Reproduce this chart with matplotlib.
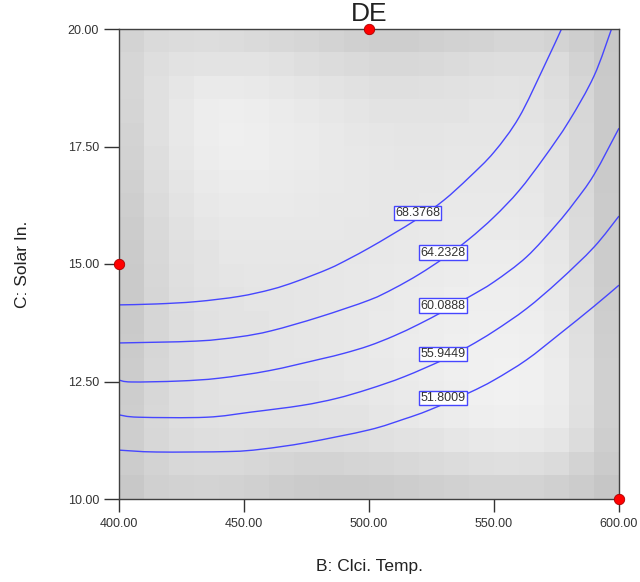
import numpy as np
import matplotlib
matplotlib.use("Agg")
import matplotlib.pyplot as plt
from matplotlib.path import Path
from matplotlib.patches import PathPatch

FONT = ['Liberation Sans Narrow', 'Liberation Sans', 'DejaVu Sans']
plt.rcParams['font.family'] = FONT

# ---- data ----
title = "DE"
x_label = "B: Clci. Temp."
y_label = "C: Solar In."
x_ticks = [400, 450, 500, 550, 600]
y_ticks = [10, 12.5, 15, 17.5, 20]

# contour levels and traced contour lines (B, C)
levels = [68.3768, 64.2328, 60.0888, 55.9449, 51.8009]
c1_x = [400, 415, 431, 448, 461, 471, 484, 492, 500, 509, 520, 530, 540, 550, 560, 570, 577]
c1_y = [14.13, 14.15, 14.20, 14.31, 14.46, 14.63, 14.90, 15.11, 15.34, 15.62, 15.98, 16.36, 16.84, 17.38, 18.12, 19.20, 20.00]
c2_x = [400, 431, 448, 461, 480, 500, 510, 520, 530, 540, 550, 560, 570, 580, 590, 597]
c2_y = [13.32, 13.36, 13.45, 13.58, 13.87, 14.23, 14.48, 14.78, 15.13, 15.53, 16.00, 16.56, 17.26, 18.04, 19.00, 20.00]
c3_x = [400, 405, 424, 440, 460, 480, 490, 500, 510, 520, 530, 540, 550, 563, 575, 582, 590, 600]
c3_y = [12.53, 12.49, 12.51, 12.57, 12.73, 12.97, 13.10, 13.26, 13.47, 13.72, 14.00, 14.30, 14.62, 15.15, 15.84, 16.30, 16.90, 17.89]
c4_x = [400, 408, 435, 453, 473, 487, 500, 514, 530, 540, 550, 563, 576, 590, 600]
c4_y = [11.79, 11.74, 11.74, 11.85, 11.99, 12.14, 12.34, 12.60, 12.97, 13.25, 13.57, 14.05, 14.64, 15.36, 16.02]
c5_x = [400, 415, 444, 457, 475, 500, 514, 524, 540, 550, 563, 576, 590, 600]
c5_y = [11.04, 11.00, 11.01, 11.06, 11.20, 11.47, 11.70, 11.89, 12.26, 12.53, 12.96, 13.50, 14.10, 14.55]

# design points
pts_x = [500, 400, 600]
pts_y = [20, 15, 10]

# background shading (grey levels, top row = C 20, left col = B 400)
shade = [
    [212, 218, 220, 221, 220, 218, 216, 214, 211, 208, 206, 206, 208, 210, 212, 214, 214, 212, 206, 200],
    [214, 222, 226, 228, 228, 227, 225, 222, 220, 218, 216, 216, 217, 219, 221, 222, 222, 220, 212, 201],
    [214, 224, 230, 234, 234, 233, 231, 229, 227, 225, 223, 223, 224, 225, 226, 227, 226, 222, 214, 202],
    [213, 224, 232, 237, 238, 237, 235, 233, 231, 229, 228, 227, 228, 228, 229, 229, 228, 224, 215, 202],
    [212, 224, 232, 237, 239, 238, 236, 235, 233, 231, 230, 229, 229, 230, 230, 230, 229, 225, 216, 202],
    [210, 222, 231, 236, 238, 238, 236, 235, 233, 232, 231, 230, 230, 231, 231, 231, 230, 226, 216, 202],
    [208, 221, 229, 234, 236, 236, 235, 234, 233, 232, 231, 231, 231, 232, 232, 232, 231, 227, 217, 202],
    [206, 219, 227, 232, 234, 234, 234, 233, 232, 232, 231, 231, 232, 233, 233, 233, 232, 228, 218, 203],
    [204, 217, 225, 230, 232, 232, 232, 232, 232, 231, 231, 232, 233, 234, 234, 234, 233, 229, 219, 203],
    [203, 216, 224, 228, 231, 231, 231, 231, 231, 231, 232, 233, 234, 235, 236, 236, 235, 231, 220, 204],
    [202, 215, 223, 227, 229, 230, 230, 230, 231, 232, 233, 234, 235, 236, 237, 237, 236, 232, 221, 204],
    [202, 214, 222, 226, 228, 229, 229, 230, 231, 232, 233, 235, 236, 238, 238, 238, 237, 233, 222, 205],
    [202, 214, 221, 225, 227, 228, 229, 230, 231, 232, 234, 235, 237, 238, 239, 239, 238, 234, 223, 206],
    [203, 214, 221, 225, 227, 228, 229, 230, 231, 232, 234, 236, 237, 239, 240, 240, 239, 235, 224, 207],
    [204, 215, 221, 225, 227, 228, 229, 229, 230, 232, 233, 235, 237, 239, 240, 241, 240, 236, 225, 208],
    [205, 215, 222, 225, 227, 227, 228, 228, 229, 230, 232, 234, 236, 238, 240, 241, 240, 236, 225, 208],
    [206, 216, 222, 225, 226, 226, 226, 226, 227, 228, 230, 232, 234, 236, 238, 239, 238, 235, 224, 208],
    [206, 215, 220, 222, 223, 222, 221, 221, 221, 222, 224, 226, 228, 230, 232, 233, 232, 229, 220, 206],
    [204, 212, 216, 217, 217, 215, 213, 212, 212, 213, 214, 216, 218, 220, 222, 223, 222, 219, 212, 203],
    [200, 208, 210, 211, 210, 208, 205, 203, 202, 202, 203, 205, 207, 209, 211, 212, 211, 208, 204, 198],
]


def smooth_path(xs, ys):
    """Cubic Bezier path through the traced points (Catmull-Rom tangents)."""
    p = np.column_stack([xs, ys]).astype(float)
    verts = [p[0]]
    codes = [Path.MOVETO]
    n = len(p)
    for i in range(n - 1):
        p0 = p[i - 1] if i > 0 else p[i]
        p1, p2 = p[i], p[i + 1]
        p3 = p[i + 2] if i + 2 < n else p[i + 1]
        verts += [p1 + (p2 - p0) / 6.0, p2 - (p3 - p1) / 6.0, p2]
        codes += [Path.CURVE4] * 3
    return Path(verts, codes)


# ---- figure ----
W, H = 640, 582
fig = plt.figure(figsize=(W / 100, H / 100), dpi=100)
ax = fig.add_axes([119 / W, 83 / H, 500 / W, 470 / H])

ax.imshow(np.array(shade), cmap='gray', vmin=0, vmax=255, interpolation='nearest',
          extent=[x_ticks[0], x_ticks[-1], y_ticks[0], y_ticks[-1]], origin='upper',
          aspect='auto', zorder=0)

line_col = '#4646ff'
lines = [(c1_x, c1_y), (c2_x, c2_y), (c3_x, c3_y), (c4_x, c4_y), (c5_x, c5_y)]
label_x = [519.4, 529.6, 529.6, 529.6, 529.6]
for (lx, ly), lev, px in zip(lines, levels, label_x):
    ax.add_patch(PathPatch(smooth_path(lx, ly), fill=False, ec=line_col, lw=1.0, zorder=2))
    py = np.interp(px, lx, ly)
    ax.text(px, py, f"{lev:.4f}", ha='center', va='bottom', fontsize=9,
            color='#333333', zorder=3, family=FONT,
            bbox=dict(boxstyle='square,pad=0.1', fc='white', ec=line_col, lw=1.0))

ax.plot(pts_x, pts_y, 'o', color='#ff0000', mec='#aa0000', mew=0.6, ms=7.5,
        clip_on=False, zorder=5)

ax.set_xlim(x_ticks[0], x_ticks[-1])
ax.set_ylim(y_ticks[0], y_ticks[-1])
ax.set_xticks(x_ticks)
ax.set_yticks(y_ticks)
ax.set_xticklabels([f"{v:.2f}" for v in x_ticks])
ax.set_yticklabels([f"{v:.2f}" for v in y_ticks])
ax.tick_params(axis='x', direction='out', length=9.4, width=1.0, pad=4.3,
               colors='#333333', labelsize=9)
ax.tick_params(axis='y', direction='out', length=10.8, width=1.0, pad=3.6,
               colors='#333333', labelsize=9)
for sp in ax.spines.values():
    sp.set_color('#404040')
    sp.set_linewidth(1.0)

fig.text(369 / W, 1 - 14 / H, title, ha='center', va='center', fontsize=19, color='#222222')
fig.text(369 / W, 1 - 567 / H, x_label, ha='center', va='center', fontsize=12.5, color='#222222')
fig.text(23 / W, 1 - 264 / H, y_label, ha='center', va='center', rotation=90,
         fontsize=12.5, color='#222222')

fig.savefig('out.png', dpi=100)
